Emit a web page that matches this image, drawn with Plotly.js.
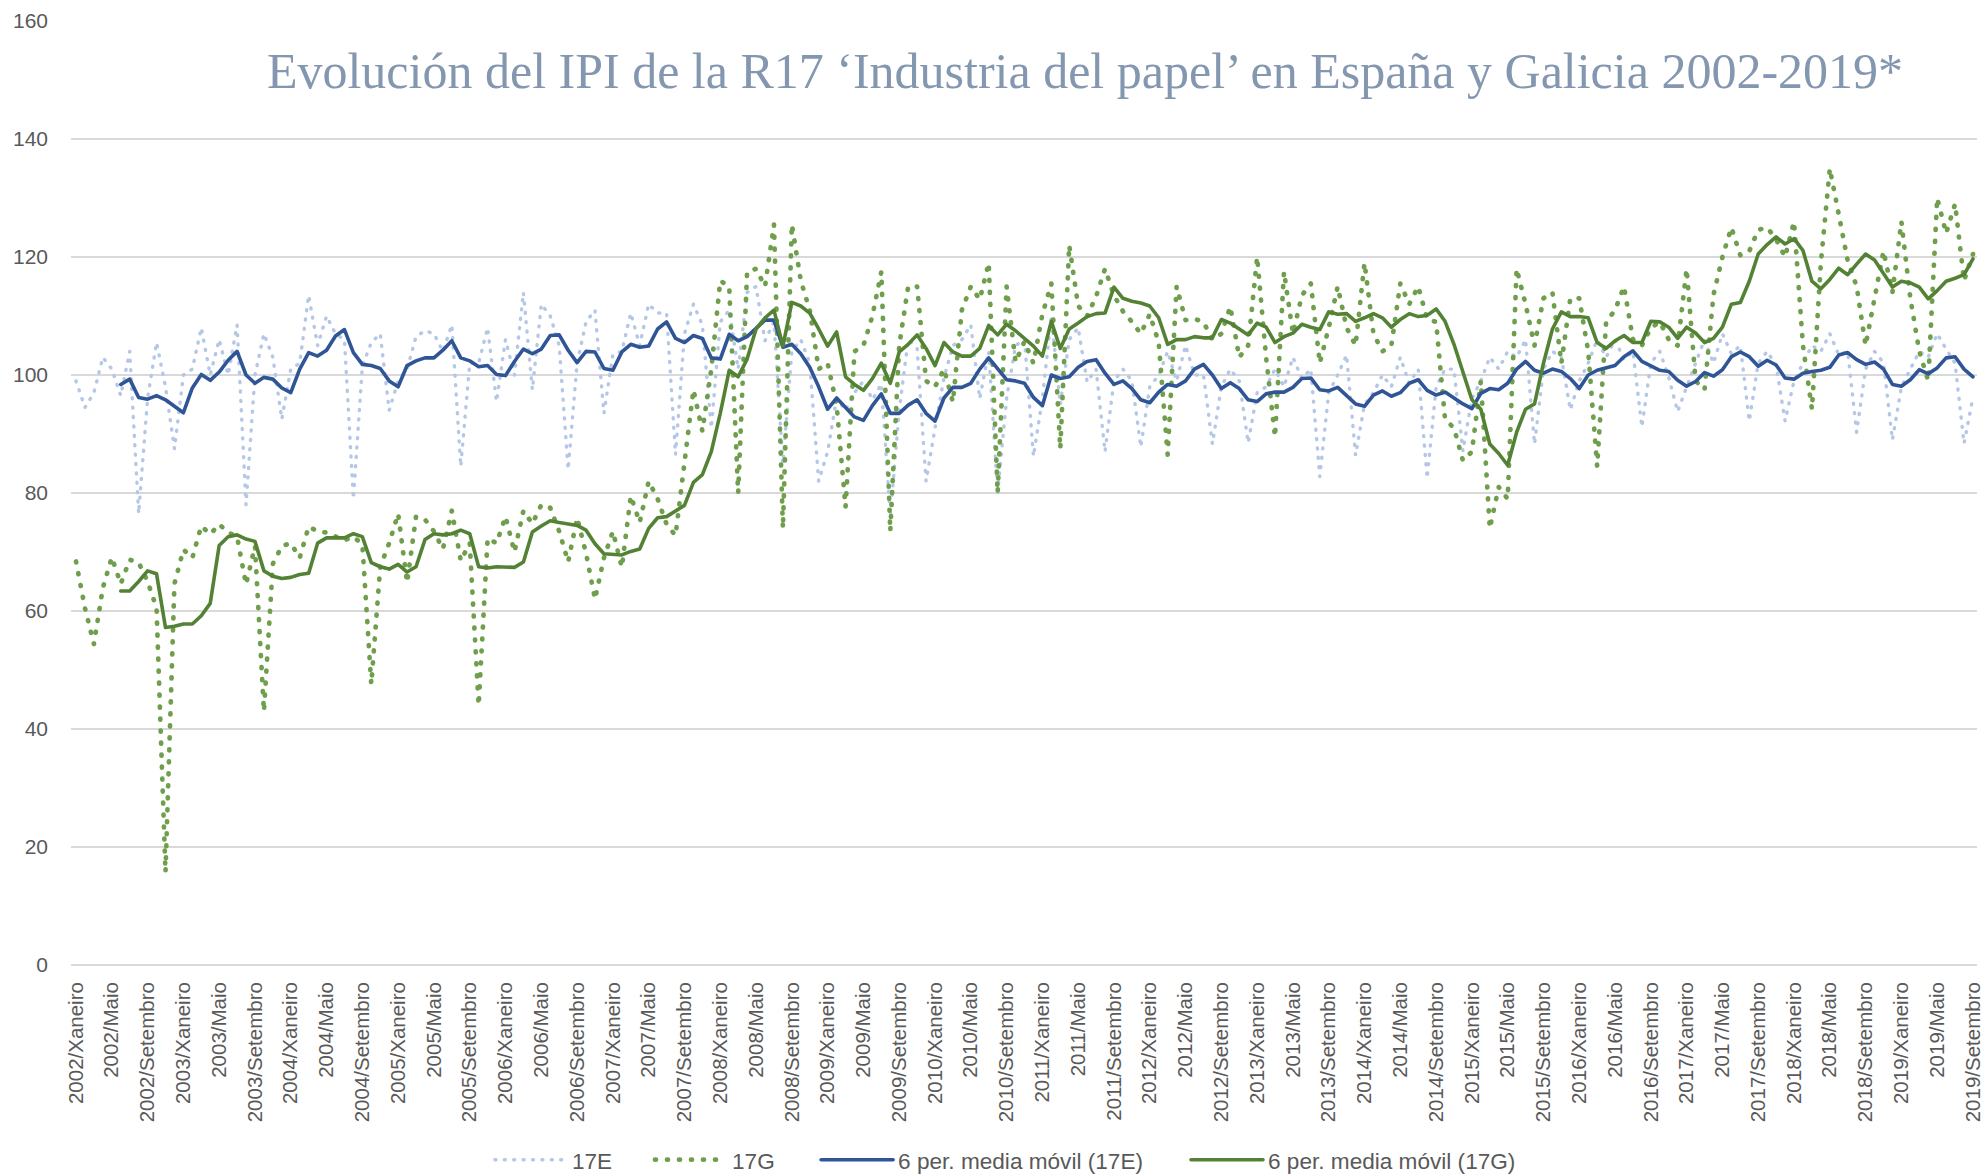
<!DOCTYPE html>
<html>
<head>
<meta charset="utf-8">
<script src="https://cdn.plot.ly/plotly-3.0.1.min.js"></script>
<style>
html,body{margin:0;padding:0;background:#ffffff;}
#chart{width:1986px;height:1174px;}
#chart .js-line{stroke-linecap:round !important;stroke-linejoin:round !important;}
</style>
</head>
<body>
<div id="chart"></div>
<script>
// ---- data ----
const years = [2002,2003,2004,2005,2006,2007,2008,2009,2010,2011,2012,2013,2014,2015,2016,2017,2018,2019];
const months = ["Xaneiro","Febreiro","Marzo","Abril","Maio","Xuño","Xullo","Agosto","Setembro","Outubro","Novembro","Decembro"];

// IPI R17 España (17E), monthly 2002/Xaneiro .. 2019/Setembro
const e17 = [
  99,94.5,97,103,101,96.5,104,76.5,96,105.5,98,87.5,
  100,101,108,100,106,100,108.5,78,100,107,103,92.5,
  101,102,113.5,105,110,107,106,79,101.5,105.5,107,94,
  99,101,106.5,107.5,107,104,108.5,84.5,102,102,108,95.5,
  106,100,114,97.5,112,110,105,84,102,109,111,93.5,
  103.5,104,110.5,105,112,110.5,110.5,86.5,107,112,108.5,91,
  109,111,101,114,115,105.8,109,85,104,106,102,82,
  87,96,94,97,99,95.8,98.5,76,94,106,104.5,82,
  91,99.5,105,106,108.5,96,104,80,96,105,106,86.2,
  96,110,95,106,108,98.8,101,87,99,101,99,87.8,
  98,100,104,99,105,100,100,88.3,98,101,99,88.5,
  97,98,101,98,103,99.4,101,82.8,97,100,103.4,86.4,
  95,97,100,98,103,98.6,101,82.5,98,101,101,87.1,
  96,99,103,101,104,103,106,88.3,101,104,103,94.1,
  99,102,106,103,106,102.6,104,91.2,102,104,99.6,93.8,
  98,102,106,102,107,103.6,105,92.2,102,104,101.6,92.2,
  99,102,105,104,107,103.4,104,90.3,101,104,102.1,89,
  98,101,104,103,107,104.4,102,88.4,96.2
];

// IPI R17 Galicia (17G)
const g17 = [
  68.4,60.5,54.4,63.9,69.1,64.6,68.7,68.2,65,60.5,15.7,64.6,
  70.4,69,74.4,73,74.7,73.3,72.6,64.5,71,43,68,71,
  71.5,69,74.3,73.5,73.3,72.6,72,72.6,71.3,47.6,67.5,71.5,
  76.5,64.8,76,75.5,73.5,70.5,77,68.5,71.5,44,72.3,71.5,
  76,70,77,74.8,78,77.5,73.5,68.3,75.8,69.8,62,69,
  73.5,67.4,79.5,75,82,79,74.7,72.8,85.5,97.5,90.5,101,
  116,115,80,117.5,118,115,125.5,74,125.5,116,111,101,
  102,95,77.6,104,105,110,117.5,73.5,105,115,115,99,
  98,101,95.4,111,115,112.8,119,80,115,102.2,105.7,102,
  110.3,115.5,87.5,122,111.7,110,113.3,118,113.5,110.8,109,107,
  110.3,105.5,86.5,115,109.3,109.5,109,106,107,111.6,103,105,
  120,103,89.5,117.5,107,113.5,115.5,102,108,115,108,105,
  119,107,104,105,115.5,112,115,109.5,109,92.5,91,85.5,
  87,99,74,81,79,118,112,105,113,114,102,113,
  113,104,84.5,109,111,115,106,105,108,109,106,105,
  118,99,97.5,113.6,120,125,120.3,121,124.6,125,123,120,
  126,105,94.2,119,135,127,119.4,115,105,113,121,114,
  126,113,104,99,130,124,129,116,120.5
];

// 6-period moving average lines as drawn (first value at 2002/Xuño)
const maE = [
  98.4,99.3,96.2,95.9,96.5,95.8,94.7,
  93.6,97.8,100.1,99.1,100.5,102.5,104,100,98.6,99.6,99.3,97.8,
  97,101,103.8,103.2,104.2,106.6,107.7,103.8,101.8,101.6,101.1,99,
  98,101.6,102.4,102.9,102.9,104.2,105.8,102.9,102.4,101.4,101.6,100.1,
  99.9,102.3,104.4,103.6,104.4,106.7,106.8,104.2,102.1,104,103.9,101.1,
  100.8,103.9,105.2,104.7,104.9,107.8,109,106.2,105.5,106.7,106.2,102.9,
  102.7,106.9,105.8,106.5,107.8,109.3,109.3,104.7,105.2,103.6,101.3,98,
  94.2,96.1,94.5,92.9,92.3,94.8,96.8,93.5,93.5,94.9,95.8,93.5,
  92.2,96.1,97.9,97.9,98.6,101,102.9,101,99.2,99,98.6,96.2,
  94.8,100,99.4,99.7,101.3,102.3,102.6,100.3,98.4,99,97.7,95.8,
  95.3,97.1,98.4,98.1,99,101,101.8,100,97.7,98.7,97.7,95.8,
  95.5,96.8,97.1,97.1,97.9,99.4,99.5,97.5,97.3,97.9,96.5,95.1,
  94.7,96.6,97.3,96.4,97,98.6,99.2,97.4,96.6,97.1,96.1,95.1,
  94.3,96.9,97.7,97.5,98.6,101,102.3,100.8,100.3,101,100.6,99.4,
  97.7,100,100.8,101.2,101.6,103.1,104.1,102.3,101.6,100.8,100.6,99.1,
  98.1,98.9,100.4,99.8,100.9,103.1,103.9,103.1,101.5,102.5,101.7,99.5,
  99.3,100.3,100.6,100.8,101.3,103.4,103.8,102.6,101.8,102.2,101,98.4,
  98.1,99.2,100.9,100.2,101.2,102.9,103.1,101,99.7
];
const maG = [
  63.4,63.4,65,66.8,66.3,57.2,57.4,
  57.8,57.8,59.2,61.3,71.1,72.6,72.9,72.2,71.8,66.8,65.9,65.5,
  65.7,66.2,66.4,71.5,72.4,72.4,72.4,73.1,72.6,68.2,67.5,67.1,
  67.9,66.6,67.5,72.1,73.1,72.9,73.1,73.7,73.1,67.5,67.3,67.5,
  67.4,67.4,68.3,73.4,74.4,75.3,75,74.7,74.5,73.7,71.4,69.7,
  69.6,69.5,70.1,70.5,74,75.8,76,76.9,77.9,81.8,83.1,87,
  93.5,100.8,99.7,102.7,107.8,109.7,111,104.9,112.3,111.7,110.5,107.8,
  104.9,107.3,99.7,98.4,97.4,99.4,102,98.6,103.9,105.2,106.8,104.5,
  101.6,105.5,103.9,103.2,103.2,104.5,108.4,106.8,108.6,107.5,106.2,104.9,
  103.2,109.1,104.5,107.8,108.8,109.9,110.4,110.5,114.9,113,112.5,112.2,
  111.7,109.7,105.2,106,106,106.5,106.3,106.3,109.4,108.8,107.8,106.8,
  108.8,108.1,105.5,106.5,107.1,108.6,108.1,107.7,110.7,110.3,110.4,109.1,
  109.7,110.4,109.7,108.1,109.4,110.4,109.9,110.1,111.2,109.1,105.2,100.6,
  95.8,94.2,88.3,86.7,84.7,90.3,94.2,95.1,102,107.8,110.7,109.9,
  109.9,109.7,105.5,104.5,105.8,106.7,105.5,105.5,109.1,109,108.1,106.2,
  108.1,107.1,105.5,106.2,108.1,112,112.3,115.9,120.5,122.1,123.4,122.2,
  123.1,121.1,115.9,114.6,116.2,118.1,117,118.8,120.5,119.5,117.2,114.9,
  115.9,115.6,114.9,112.9,114.3,115.9,116.4,117,119.7
];

const seriesNames = ["17E","17G","6 per. media móvil (17E)","6 per. media móvil (17G)"];
const titleText = "Evolución del IPI de la R17 ‘Industria del papel’ en España y Galicia 2002-2019*";
const yTicks = [0,20,40,60,80,100,120,140,160];

// ---- build categories ----
const allPeriods = [];
years.forEach(y => months.forEach(m => allPeriods.push(y + "/" + m)));
const periods = allPeriods.slice(0, e17.length);
const maPeriods = periods.slice(periods.length - maE.length);
const tickPeriods = periods.filter((p, i) => i % 4 === 0);

const FONT = "'Liberation Sans', Arial, sans-serif";

const traces = [
  {x: periods, y: e17, name: seriesNames[0], type: "scatter", mode: "lines", legend: "legend",
   line: {color: "#b4c7e7", width: 3.4, dash: "1px,8.4px"}, hoverinfo: "x+y"},
  {x: periods, y: g17, name: seriesNames[1], type: "scatter", mode: "lines", legend: "legend2",
   line: {color: "#6f9f4c", width: 4.7, dash: "1px,11px"}, hoverinfo: "x+y"},
  {x: maPeriods, y: maE, name: seriesNames[2], type: "scatter", mode: "lines", legend: "legend3",
   line: {color: "#2f5597", width: 3.6}, hoverinfo: "x+y"},
  {x: maPeriods, y: maG, name: seriesNames[3], type: "scatter", mode: "lines", legend: "legend4",
   line: {color: "#548235", width: 3.6}, hoverinfo: "x+y"}
];

function legendAt(xc) {
  return {
    orientation: "h", x: xc, xanchor: "left", xref: "container",
    y: 1 - 1160 / 1174, yanchor: "middle", yref: "container",
    font: {family: FONT, size: 22.6, color: "#595959"},
    itemwidth: 72, bgcolor: "rgba(0,0,0,0)", borderwidth: 0
  };
}

const layout = {
  width: 1986, height: 1174,
  paper_bgcolor: "#ffffff", plot_bgcolor: "#ffffff",
  margin: {l: 71, r: 9, t: 21, b: 209, pad: 0, autoexpand: false},
  font: {family: FONT, color: "#595959"},
  title: {
    text: titleText,
    font: {family: "'Liberation Serif', 'DejaVu Serif', serif", size: 50, color: "#8497b0"},
    x: 1085 / 1986, xanchor: "center", xref: "container",
    y: 1 - 70 / 1174, yanchor: "middle", yref: "container"
  },
  xaxis: {
    type: "category",
    categoryorder: "array", categoryarray: periods,
    range: [-0.56, periods.length - 1 + 0.45],
    tickmode: "array", tickvals: tickPeriods, ticktext: tickPeriods,
    tickangle: -90,
    tickfont: {family: FONT, size: 20.5, color: "#595959"},
    ticks: "", showgrid: false, zeroline: false, showline: false,
    ticklabelstandoff: 12,
    automargin: false
  },
  yaxis: {
    range: [0, 160],
    tickmode: "array", tickvals: yTicks,
    tickfont: {family: FONT, size: 21, color: "#595959"},
    ticks: "", showgrid: true, gridcolor: "#d9d9d9", gridwidth: 1.3,
    zeroline: true, zerolinecolor: "#d9d9d9", zerolinewidth: 1.3,
    showline: false, ticklabelstandoff: 22, automargin: false
  },
  showlegend: true,
  legend: legendAt(0.24668),
  legend2: legendAt(0.32729),
  legend3: legendAt(0.41093),
  legend4: legendAt(0.59718),
  hovermode: "closest"
};

Plotly.newPlot("chart", traces, layout, {displayModeBar: false, staticPlot: true});
</script>
</body>
</html>
